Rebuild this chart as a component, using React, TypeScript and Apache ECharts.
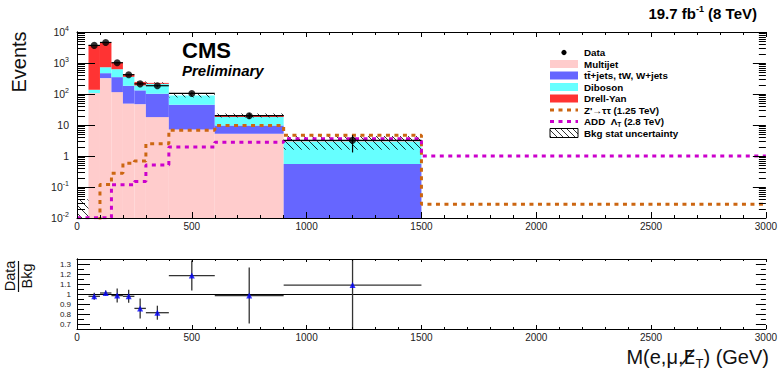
import React, { useEffect, useRef } from "react";
import * as echarts from "echarts";

const FONT = "'Liberation Sans', Arial, Helvetica, sans-serif";

// ---- Background histograms (bin edges in GeV) ----
const binEdges = [0, 50, 100, 150, 200, 250, 300, 400, 600, 900, 1500];
const multijet = [0, 107, 325, 115, 49, 47, 18, 7.2, 5.2, 0];
const ttbarJets = [0, 0, 145, 235, 135, 84, 84, 37.8, 4.4, 0.55];
const diboson = [0, 30, 260, 280, 174, 58, 111, 44, 8.4, 2.4];
const drellYan = [0, 3613, 3850, 410, 72, 56, 15, 0.5, 2.5, 0.05];
const bkgStatErr = [0.04, 60, 70, 30, 15, 10, 10, 12, 3, 1.4];

// ---- Data ----
const dataCounts: (number | null)[] = [null, 3700, 4600, 1020, 420, 212, 185, 104, 20, 3.2];
const dataErrLow = [0, 61, 68, 32, 20, 15, 14, 10, 4.5, 1.9];
const dataErrHigh = [0, 61, 68, 32, 20, 15, 14, 10, 4.5, 1.5];

// ---- Signals ----
const signalEdges = [0, 50, 100, 150, 200, 250, 300, 400, 600, 900, 1500, 3000];
const zPrime = [0.001, 0.001, 0.12, 0.28, 0.58, 0.69, 2.5, 6.8, 9.6, 4.7, 0.028];
const addSignal = [0.0102, 0.0102, 0.0102, 0.118, 0.118, 0.15, 0.51, 1.94, 2.8, 3.6, 1.0];

// ---- Ratio panel ----
const ratioX = [75, 125, 175, 225, 275, 350, 500, 750, 1200];
const ratioXErr = [25, 25, 25, 25, 25, 50, 100, 150, 300];
const ratioVals = [0.977, 1.01, 0.984, 0.977, 0.856, 0.813, 1.184, 0.984, 1.089];
const ratioErr = [0.035, 0.025, 0.07, 0.065, 0.1, 0.07, 0.15, 0.28, 0.5];

// ---- Axis ticks ----
const logDecades = [-2, -1, 0, 1, 2, 3];
const logMantissas = [1, 2, 3, 4, 5, 6, 7, 8, 9];
const ratioTickValues = [0.7, 0.75, 0.8, 0.85, 0.9, 0.95, 1.0, 1.05, 1.1, 1.15, 1.2, 1.25, 1.3];

// ---- Colours ----
const C_MULTIJET = "#FFCCCC";
const C_TT = "#6666FF";
const C_DIBOSON = "#66FFFF";
const C_DY = "#FF3333";
const C_ZP = "#CC6611";
const C_ADD = "#CC00CC";

const legendItems = [
  { kind: "dot", label: "Data" },
  { kind: "box", label: "Multijet", color: C_MULTIJET },
  { kind: "box", label: "tt\u0304+jets, tW, W+jets", color: C_TT },
  { kind: "box", label: "Diboson", color: C_DIBOSON },
  { kind: "box", label: "Drell-Yan", color: C_DY },
  { kind: "line", label: "Z'\u2192\u03c4\u03c4 (1.25 TeV)", color: C_ZP },
  { kind: "line", label: "{a|ADD  \u039b}{s|T}{a| (2.8 TeV)}", color: C_ADD },
  { kind: "hatch", label: "Bkg stat uncertainty" },
];

function hatchLines(X0: number, Y0: number, X1: number, Y1: number, spacing: number, lw = 0.8) {
  const out: any[] = [];
  const cStart = Math.ceil((Y0 - X1) / spacing) * spacing;
  for (let c = cStart; c <= Y1 - X0; c += spacing) {
    const xa = Math.max(X0, Y0 - c);
    const xb = Math.min(X1, Y1 - c);
    if (xb > xa) {
      out.push({
        type: "line",
        shape: { x1: xa, y1: xa + c, x2: xb, y2: xb + c },
        style: { stroke: "#000", lineWidth: lw },
      });
    }
  }
  return out;
}

function stepPoints(edges: number[], vals: number[]) {
  const pts: number[][] = [];
  vals.forEach((v, i) => {
    pts.push([edges[i], v]);
    pts.push([edges[i + 1], v]);
  });
  return pts;
}

function buildOption() {
  const layers = [
    { name: "Multijet", vals: multijet, color: C_MULTIJET },
    { name: "tt+jets", vals: ttbarJets, color: C_TT },
    { name: "Diboson", vals: diboson, color: C_DIBOSON },
    { name: "Drell-Yan", vals: drellYan, color: C_DY },
  ];
  let running = multijet.map(() => 0);
  const stackSeries: any[] = [];
  layers.forEach((layer) => {
    const lo = running.slice();
    running = running.map((r, i) => r + layer.vals[i]);
    const hi = running.slice();
    const data: number[][] = [];
    for (let i = 0; i < lo.length; i++) {
      if (hi[i] > lo[i]) data.push([binEdges[i], binEdges[i + 1], lo[i], hi[i]]);
    }
    const color = layer.color;
    stackSeries.push({
      type: "custom",
      name: layer.name,
      xAxisIndex: 0,
      yAxisIndex: 0,
      z: 2,
      encode: { x: [0, 1], y: [2, 3] },
      data,
      renderItem: (params: any, api: any) => {
        const cs = params.coordSys;
        const bottom = cs.y + cs.height;
        const x0 = api.value(0), x1 = api.value(1), lo = api.value(2), hi = api.value(3);
        const toY = (v: number) => (v > 0 ? Math.min(api.coord([x0, v])[1], bottom) : bottom);
        const px0 = api.coord([x0, 1])[0];
        const px1 = api.coord([x1, 1])[0];
        const yTop = Math.max(toY(hi), cs.y);
        const yBot = toY(lo);
        if (yBot - yTop <= 0) return null;
        return {
          type: "rect",
          shape: { x: px0, y: yTop, width: px1 - px0, height: yBot - yTop },
          style: { fill: color, stroke: null },
        };
      },
    });
  });
  const totals = running;

  const hatchData = totals.map((t, i) => [binEdges[i], binEdges[i + 1], t - bkgStatErr[i], t + bkgStatErr[i]]);

  const dataPts: number[][] = [];
  const dataErr: number[][] = [];
  dataCounts.forEach((d, i) => {
    if (d == null) return;
    const xc = (binEdges[i] + binEdges[i + 1]) / 2;
    dataPts.push([xc, d]);
    dataErr.push([binEdges[i], binEdges[i + 1], d, d - dataErrLow[i], d + dataErrHigh[i]]);
  });

  const logTicks: number[][] = [];
  logDecades.forEach((d) =>
    logMantissas.forEach((m) => logTicks.push([0, m * Math.pow(10, d), m === 1 ? 1 : 0]))
  );
  logTicks.push([0, 10000, 1]);

  const ratioTicks = ratioTickValues.map((v) => [0, v, Math.round(v * 100) % 10 === 0 ? 1 : 0]);

  const ratioPts = ratioX.map((x, i) => [x, ratioVals[i]]);
  const ratioErrData = ratioX.map((x, i) => [x - ratioXErr[i], x + ratioXErr[i], ratioVals[i], ratioVals[i] - ratioErr[i], ratioVals[i] + ratioErr[i]]);

  const axisLineStyle = { color: "#000", width: 1 };
  const mkX = (grid: number, pos: string, showLabel: boolean, len: number, minorLen: number) => ({
    gridIndex: grid,
    type: "value",
    min: 0,
    max: 3000,
    interval: 500,
    position: pos,
    z: 10,
    axisLine: { show: true, onZero: false, lineStyle: axisLineStyle },
    axisTick: { show: true, inside: true, length: len, lineStyle: { color: "#000" } },
    minorTick: { show: true, splitNumber: 5, length: minorLen, lineStyle: { color: "#000" } },
    splitLine: { show: false },
    axisLabel: {
      show: showLabel,
      fontSize: 10,
      color: "#222",
      margin: 3,
      fontFamily: FONT,
      formatter: (v: number) => String(Math.round(v)),
    },
  });

  const tickRender = (L: number, S: number, R: number, RS: number) => (params: any, api: any) => {
    const cs = params.coordSys;
    const v = api.value(1);
    const major = api.value(2) === 1;
    let y = api.coord([0, v])[1];
    if (y < cs.y - 0.5 || y > cs.y + cs.height + 0.5) return null;
    y = Math.round(y) + 0.5;
    const l = major ? L : S;
    const r = major ? R : RS;
    return {
      type: "group",
      children: [
        { type: "line", shape: { x1: cs.x, y1: y, x2: cs.x + l, y2: y }, style: { stroke: "#000", lineWidth: 1 } },
        { type: "line", shape: { x1: cs.x + cs.width - r, y1: y, x2: cs.x + cs.width, y2: y }, style: { stroke: "#000", lineWidth: 1 } },
      ],
    };
  };

  // legend graphics
  const legendGraphics: any[] = [];
  const lx0 = 550, lx1 = 578, ltx = 584, ly0 = 52.5, lstep = 11.5;
  legendItems.forEach((it, k) => {
    const y = ly0 + k * lstep;
    if (it.kind === "dot") {
      legendGraphics.push({ type: "circle", shape: { cx: 564, cy: y, r: 2.6 }, style: { fill: "#000" } });
    } else if (it.kind === "box") {
      legendGraphics.push({ type: "rect", shape: { x: lx0, y: y - 4, width: lx1 - lx0, height: 8 }, style: { fill: it.color } });
    } else if (it.kind === "line") {
      legendGraphics.push({
        type: "line",
        shape: { x1: lx0, y1: y, x2: lx1, y2: y },
        style: { stroke: it.color, lineWidth: 3, lineDash: [4, 4.5] },
      });
    } else if (it.kind === "hatch") {
      legendGraphics.push({ type: "rect", shape: { x: lx0, y: y - 4.5, width: lx1 - lx0, height: 9 }, style: { fill: "#fff", stroke: "#000", lineWidth: 1 } });
      hatchLines(lx0, y - 4.5, lx1, y + 4.5, 6).forEach((l) => legendGraphics.push(l));
    }
    legendGraphics.push({
      type: "text",
      x: ltx,
      y,
      style: {
        text: it.label,
        fontFamily: FONT,
        fontSize: 9.8,
        fontWeight: "bold",
        fill: "#000",
        align: "left",
        verticalAlign: "middle",
        rich: {
          a: { fontFamily: FONT, fontSize: 9.8, fontWeight: "bold", fill: "#000" },
          s: { fontFamily: FONT, fontSize: 6.5, fontWeight: "bold", fill: "#000", padding: [6, 0, 0, 0] },
        },
      },
    });
  });

  return {
    animation: false,
    textStyle: { fontFamily: FONT },
    grid: [
      { left: 77, right: 12, top: 32, height: 186 },
      { left: 77, right: 12, top: 259, height: 70 },
    ],
    xAxis: [
      mkX(0, "bottom", true, 6, 3),
      mkX(0, "top", false, 5, 3),
      mkX(1, "bottom", true, 4, 2),
      mkX(1, "top", false, 3, 2),
    ],
    yAxis: [
      {
        gridIndex: 0,
        type: "log",
        logBase: 10,
        min: 0.01,
        max: 10000,
        position: "left",
        z: 10,
        axisLine: { show: true, lineStyle: axisLineStyle },
        axisTick: { show: false },
        splitLine: { show: false },
        axisLabel: {
          margin: 8,
          color: "#222",
          fontFamily: FONT,
          formatter: (v: number) => {
            const e = Math.round(Math.log10(v));
            if (e === 0) return "{b|1}";
            if (e === 1) return "{b|10}";
            return "{b|10}{s|" + e + "}";
          },
          rich: {
            b: { fontSize: 10.5, color: "#222", fontFamily: FONT },
            s: { fontSize: 7, color: "#222", fontFamily: FONT, padding: [0, 0, 7, 0] },
          },
        },
      },
      {
        gridIndex: 0,
        type: "log",
        logBase: 10,
        min: 0.01,
        max: 10000,
        position: "right",
        z: 10,
        axisLine: { show: true, lineStyle: axisLineStyle },
        axisTick: { show: false },
        splitLine: { show: false },
        axisLabel: { show: false },
      },
      {
        gridIndex: 1,
        type: "value",
        min: 0.65,
        max: 1.35,
        interval: 0.05,
        position: "left",
        z: 10,
        axisLine: { show: true, lineStyle: axisLineStyle },
        axisTick: { show: false },
        splitLine: { show: false },
        axisLabel: {
          margin: 6,
          fontSize: 8,
          color: "#222",
          fontFamily: FONT,
          formatter: (v: number) => {
            const r = Math.round(v * 100);
            if (r % 10 !== 0 || r < 70 || r > 130) return "";
            return String(r / 100);
          },
        },
      },
      {
        gridIndex: 1,
        type: "value",
        min: 0.65,
        max: 1.35,
        interval: 0.05,
        position: "right",
        z: 10,
        axisLine: { show: true, lineStyle: axisLineStyle },
        axisTick: { show: false },
        splitLine: { show: false },
        axisLabel: { show: false },
      },
    ],
    series: [
      ...stackSeries,
      {
        type: "custom",
        name: "Bkg stat uncertainty",
        xAxisIndex: 0,
        yAxisIndex: 0,
        z: 3,
        encode: { x: [0, 1], y: [2, 3] },
        data: hatchData,
        renderItem: (params: any, api: any) => {
          const cs = params.coordSys;
          const bottom = cs.y + cs.height;
          const x0 = api.value(0), x1 = api.value(1), lo = api.value(2), hi = api.value(3);
          const toY = (v: number) => (v > 0 ? Math.min(api.coord([x0, v])[1], bottom) : bottom);
          const px0 = api.coord([x0, 1])[0];
          const px1 = api.coord([x1, 1])[0];
          const yTop = Math.max(toY(hi), cs.y);
          const yBot = toY(lo);
          if (yBot - yTop <= 0.5) return null;
          return { type: "group", children: hatchLines(px0, yTop, px1, yBot, 8) };
        },
      },
      {
        type: "line",
        name: "Z'",
        xAxisIndex: 0,
        yAxisIndex: 0,
        z: 4,
        symbol: "none",
        clip: true,
        data: stepPoints(signalEdges, zPrime),
        lineStyle: { color: C_ZP, width: 3, type: [4, 4.5] },
      },
      {
        type: "line",
        name: "ADD",
        xAxisIndex: 0,
        yAxisIndex: 0,
        z: 4,
        symbol: "none",
        clip: true,
        data: stepPoints(signalEdges, addSignal),
        lineStyle: { color: C_ADD, width: 3, type: [4, 4.5] },
      },
      {
        type: "custom",
        name: "Data errors",
        xAxisIndex: 0,
        yAxisIndex: 0,
        z: 5,
        encode: { x: [0, 1], y: [2, 3, 4] },
        data: dataErr,
        renderItem: (params: any, api: any) => {
          const x0 = api.value(0), x1 = api.value(1), v = api.value(2), lo = api.value(3), hi = api.value(4);
          const xc = (x0 + x1) / 2;
          const p0 = api.coord([x0, v]);
          const p1 = api.coord([x1, v]);
          const pl = api.coord([xc, Math.max(lo, 0.001)]);
          const ph = api.coord([xc, hi]);
          return {
            type: "group",
            children: [
              { type: "line", shape: { x1: p0[0], y1: p0[1], x2: p1[0], y2: p1[1] }, style: { stroke: "#000", lineWidth: 1.2 } },
              { type: "line", shape: { x1: pl[0], y1: pl[1], x2: ph[0], y2: ph[1] }, style: { stroke: "#000", lineWidth: 1.2 } },
            ],
          };
        },
      },
      {
        type: "scatter",
        name: "Data",
        xAxisIndex: 0,
        yAxisIndex: 0,
        z: 6,
        symbol: "circle",
        symbolSize: 7,
        itemStyle: { color: "#000" },
        data: dataPts,
      },
      {
        type: "custom",
        name: "log ticks",
        xAxisIndex: 0,
        yAxisIndex: 0,
        z: 9,
        encode: { x: 0, y: 1 },
        data: logTicks,
        renderItem: tickRender(18, 8, 13, 7),
      },
      // ratio panel
      {
        type: "custom",
        name: "Ratio errors",
        xAxisIndex: 2,
        yAxisIndex: 2,
        z: 5,
        encode: { x: [0, 1], y: [2, 3, 4] },
        data: ratioErrData,
        renderItem: (params: any, api: any) => {
          const cs = params.coordSys;
          const x0 = api.value(0), x1 = api.value(1), v = api.value(2), lo = api.value(3), hi = api.value(4);
          const xc = (x0 + x1) / 2;
          const p0 = api.coord([x0, v]);
          const p1 = api.coord([x1, v]);
          const yl = Math.min(api.coord([xc, lo])[1], cs.y + cs.height);
          const yh = Math.max(api.coord([xc, hi])[1], cs.y);
          const px = api.coord([xc, v])[0];
          return {
            type: "group",
            children: [
              { type: "line", shape: { x1: p0[0], y1: p0[1], x2: p1[0], y2: p1[1] }, style: { stroke: "#333", lineWidth: 1.3 } },
              { type: "line", shape: { x1: px, y1: yl, x2: px, y2: yh }, style: { stroke: "#333", lineWidth: 1.3 } },
            ],
          };
        },
      },
      {
        type: "scatter",
        name: "Ratio",
        xAxisIndex: 2,
        yAxisIndex: 2,
        z: 6,
        symbol: "triangle",
        symbolSize: 6,
        itemStyle: { color: "#0000FF" },
        data: ratioPts,
        markLine: {
          silent: true,
          symbol: ["none", "none"],
          label: { show: false },
          lineStyle: { color: "#000", width: 1, type: "solid" },
          data: [{ yAxis: 1 }],
          z: 4,
        },
      },
      {
        type: "custom",
        name: "ratio ticks",
        xAxisIndex: 2,
        yAxisIndex: 2,
        z: 9,
        encode: { x: 0, y: 1 },
        data: ratioTicks,
        renderItem: tickRender(13, 7, 10, 5),
      },
    ],
    graphic: [
      {
        type: "text",
        x: 19,
        y: 62,
        rotation: Math.PI / 2,
        style: { text: "Events", fontFamily: FONT, fontSize: 20, fill: "#111", align: "center", verticalAlign: "middle" },
      },
      {
        type: "text",
        x: 10,
        y: 276,
        rotation: Math.PI / 2,
        style: { text: "Data", fontFamily: FONT, fontSize: 14.5, fill: "#111", align: "center", verticalAlign: "middle" },
      },
      {
        type: "line",
        shape: { x1: 18.5, y1: 261, x2: 18.5, y2: 292 },
        style: { stroke: "#111", lineWidth: 1.2 },
      },
      {
        type: "text",
        x: 27,
        y: 276,
        rotation: Math.PI / 2,
        style: { text: "Bkg", fontFamily: FONT, fontSize: 14.5, fill: "#111", align: "center", verticalAlign: "middle" },
      },
      {
        type: "text",
        x: 769,
        y: 357,
        style: {
          text: "{m|M(e,\u03bc,}{e|E\u0338}{t|T}{m|) (GeV)}",
          align: "right",
          verticalAlign: "middle",
          rich: {
            m: { fontFamily: FONT, fontSize: 20, fill: "#111", lineHeight: 20, verticalAlign: "top" },
            e: { fontFamily: "'DejaVu Sans'", fontSize: 19, fill: "#111", lineHeight: 20, verticalAlign: "top" },
            t: { fontFamily: FONT, fontSize: 13, fill: "#111", lineHeight: 13, padding: [10, 0, 0, 0], verticalAlign: "top" },
          },
        },
      },
      {
        type: "text",
        x: 757,
        y: 13,
        style: {
          text: "{b|19.7 fb}{s|-1}{b| (8 TeV)}",
          align: "right",
          verticalAlign: "middle",
          rich: {
            b: { fontFamily: FONT, fontSize: 15, fontWeight: "bold", fill: "#000" },
            s: { fontFamily: FONT, fontSize: 9, fontWeight: "bold", fill: "#000", padding: [0, 0, 8, 0] },
          },
        },
      },
      {
        type: "text",
        x: 182,
        y: 50,
        style: { text: "CMS", fontFamily: FONT, fontSize: 22, fontWeight: "bold", fill: "#000", align: "left", verticalAlign: "middle" },
      },
      {
        type: "text",
        x: 182,
        y: 70,
        style: { text: "Preliminary", fontFamily: FONT, fontSize: 15, fontWeight: "bold", fontStyle: "italic", fill: "#000", align: "left", verticalAlign: "middle" },
      },
      ...legendGraphics,
    ],
  };
}

export default function App() {
  const ref = useRef<HTMLDivElement>(null);
  useEffect(() => {
    if (!ref.current) return;
    const chart = echarts.init(ref.current, null, { renderer: "svg" });
    chart.setOption(buildOption() as any);
    return () => chart.dispose();
  }, []);
  return (
    <div
      ref={ref}
      style={{ position: "absolute", left: 0, top: 0, width: 780, height: 372, background: "#fff" }}
    />
  );
}
